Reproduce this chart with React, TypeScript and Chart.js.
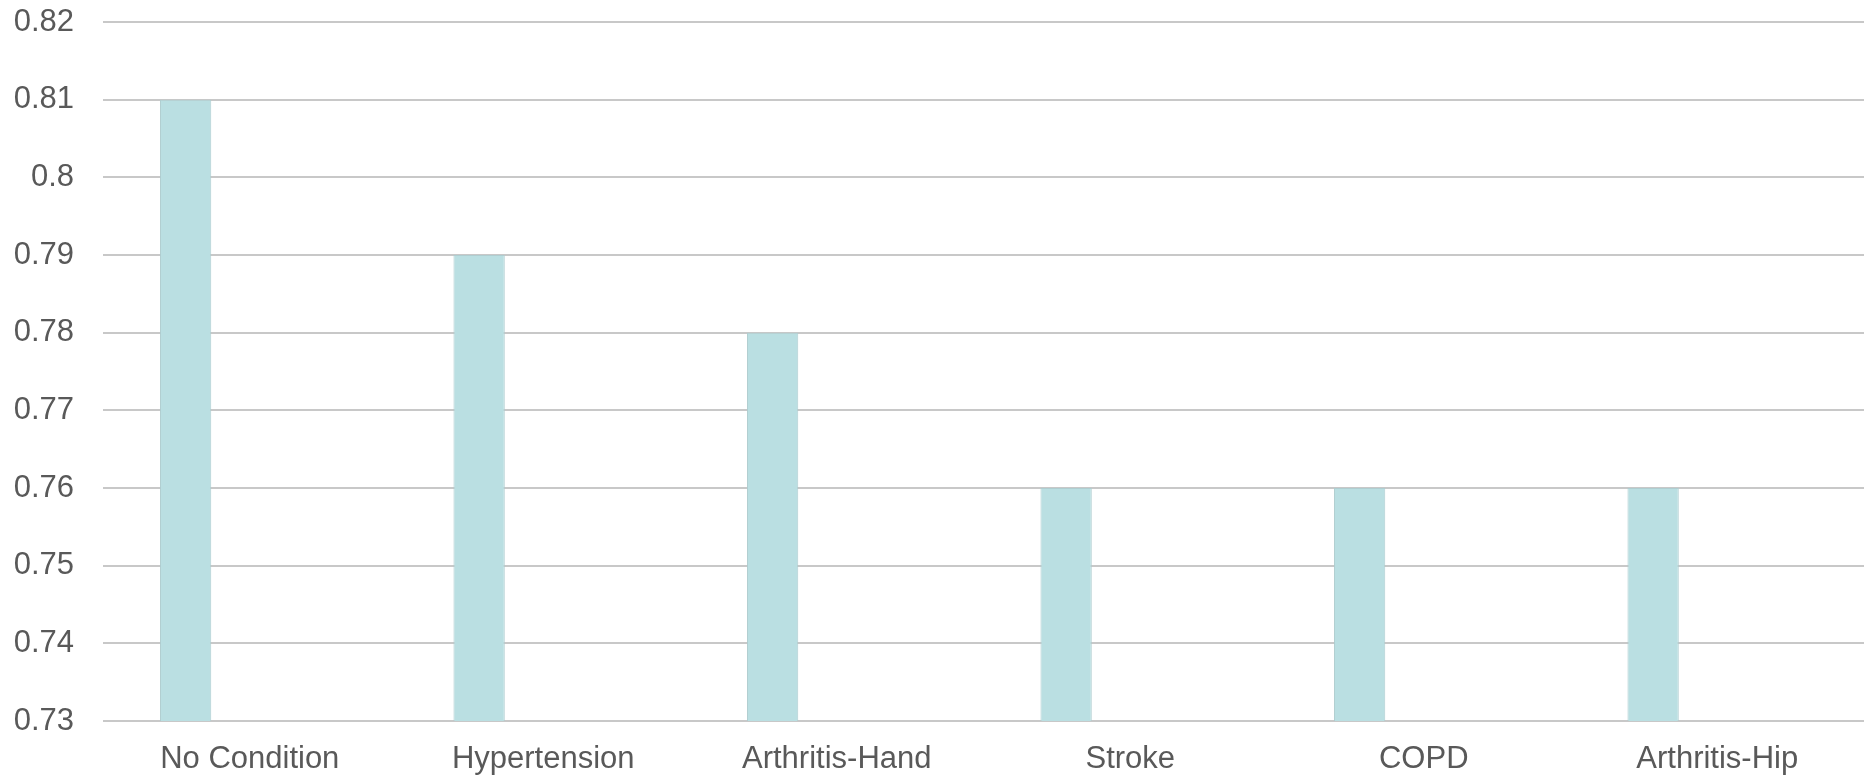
import React, { useEffect, useRef } from "react";
import { Chart, registerables } from "chart.js";

Chart.register(...registerables);

// Categories and values
const conditions = ["No Condition", "Hypertension", "Arthritis-Hand", "Stroke", "COPD", "Arthritis-Hip"];
const scores = [0.81, 0.79, 0.78, 0.76, 0.76, 0.76];
// second (empty) series slot keeps bars on the left of each category
const emptySeries = [null, null, null, null, null, null];

const yMin = 0.73;
const yMax = 0.82;
const yStep = 0.01;

const labelFont = { family: "'Liberation Sans', Arial, sans-serif", size: 31 };

export default function App() {
  const canvasRef = useRef<HTMLCanvasElement | null>(null);

  useEffect(() => {
    if (!canvasRef.current) return;
    const chart = new Chart(canvasRef.current, {
      type: "bar",
      data: {
        labels: conditions,
        datasets: [
          {
            label: "Score",
            data: scores,
            backgroundColor: "#BADFE2",
            borderColor: "#AFCDD0",
            borderWidth: 1,
            categoryPercentage: 0.874,
            barPercentage: 0.4,
          },
          {
            label: "",
            data: emptySeries,
            backgroundColor: "transparent",
            categoryPercentage: 0.874,
            barPercentage: 0.4,
          },
        ],
      },
      options: {
        animation: false,
        responsive: false,
        maintainAspectRatio: false,
        layout: { padding: { top: 22, right: 0, left: 0, bottom: 0 } },
        plugins: {
          legend: { display: false },
          tooltip: { enabled: false },
        },
        scales: {
          x: {
            grid: { display: false, drawTicks: false },
            border: { display: false },
            ticks: {
              color: "#595959",
              font: labelFont,
              padding: 20,
              maxRotation: 0,
              autoSkip: false,
            },
            afterFit: (scale: any) => {
              scale.height = 55;
            },
          },
          y: {
            min: yMin,
            max: yMax,
            grid: { color: "#C8C8C8", lineWidth: 2, drawTicks: false },
            border: { display: false },
            ticks: {
              stepSize: yStep,
              color: "#595959",
              font: labelFont,
              padding: 29,
              callback: (v: any) => String(Number(Number(v).toFixed(2))),
            },
            afterFit: (scale: any) => {
              scale.width = 103;
              scale.paddingTop = 0;
              scale.paddingBottom = 0;
            },
          },
        },
      },
    });
    return () => chart.destroy();
  }, []);

  return (
    <div style={{ position: "absolute", left: 0, top: 0, width: 1864, height: 776, background: "#fff" }}>
      <canvas ref={canvasRef} width={1864} height={776} style={{ width: 1864, height: 776, display: "block" }} />
    </div>
  );
}
